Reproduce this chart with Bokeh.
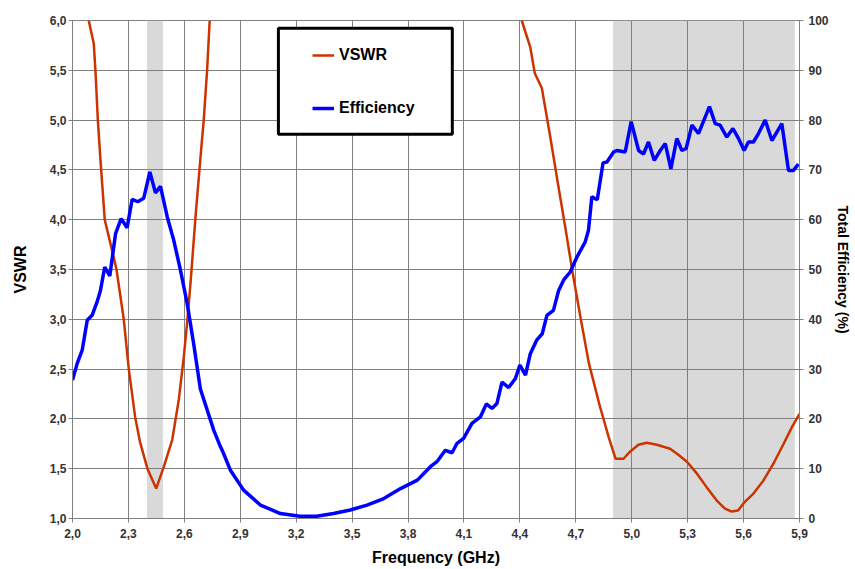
import numpy as np
from bokeh.plotting import figure
from bokeh.models import (Range1d, LinearAxis, FixedTicker, Legend, LegendItem,
                          BoxAnnotation)
from bokeh.embed import file_html
from bokeh.resources import INLINE

# ---------------- data ----------------
vswr_freq = [2.087, 2.114, 2.123, 2.136, 2.150, 2.173, 2.205, 2.236, 2.275, 2.302,
             2.336, 2.362, 2.402, 2.449, 2.490, 2.535, 2.570, 2.597, 2.615, 2.633,
             2.660, 2.690, 2.704, 2.722, 2.736,
             None,
             4.410, 4.456, 4.480, 4.518, 4.563, 4.607, 4.643, 4.680, 4.725, 4.770,
             4.830, 4.876, 4.913, 4.956, 4.990, 5.036, 5.080, 5.135, 5.170, 5.206,
             5.250, 5.296, 5.350, 5.400, 5.456, 5.500, 5.536, 5.570, 5.608, 5.653,
             5.706, 5.760, 5.815, 5.860, 5.900]
vswr_vals = [6.00, 5.77, 5.50, 5.00, 4.60, 4.00, 3.75, 3.50, 3.00, 2.50,
             2.02, 1.77, 1.50, 1.30, 1.52, 1.79, 2.19, 2.62, 2.97, 3.36,
             4.03, 4.70, 5.00, 5.50, 6.00,
             None,
             6.00, 5.73, 5.47, 5.32, 4.83, 4.33, 3.93, 3.50, 3.02, 2.56,
             2.12, 1.82, 1.60, 1.60, 1.67, 1.74, 1.76, 1.74, 1.72, 1.70,
             1.64, 1.57, 1.45, 1.32, 1.18, 1.10, 1.07, 1.08, 1.17, 1.25,
             1.38, 1.55, 1.75, 1.92, 2.05]

eff_freq = [2.000, 2.025, 2.052, 2.079, 2.105, 2.132, 2.150, 2.173, 2.200, 2.231,
            2.261, 2.293, 2.320, 2.350, 2.382, 2.415, 2.445, 2.472, 2.508, 2.543,
            2.579, 2.615, 2.650, 2.686, 2.758, 2.794, 2.810, 2.847, 2.918, 3.008,
            3.115, 3.220, 3.310, 3.400, 3.490, 3.580, 3.670, 3.760, 3.850, 3.920,
            3.955, 4.000, 4.036, 4.063, 4.098, 4.143, 4.188, 4.220, 4.250, 4.277,
            4.304, 4.340, 4.376, 4.400, 4.430, 4.456, 4.490, 4.520, 4.545, 4.580,
            4.608, 4.635, 4.670, 4.706, 4.750, 4.768, 4.786, 4.815, 4.846, 4.867,
            4.903, 4.921, 4.965, 4.997, 5.037, 5.063, 5.090, 5.121, 5.153, 5.180,
            5.210, 5.242, 5.269, 5.292, 5.323, 5.358, 5.417, 5.448, 5.474, 5.510,
            5.543, 5.573, 5.603, 5.626, 5.653, 5.680, 5.716, 5.752, 5.805, 5.841,
            5.868, 5.894]
eff_vals = [27.8, 31.1, 33.8, 39.8, 40.8, 43.5, 45.8, 50.5, 48.7, 57.2,
            60.2, 58.4, 64.1, 63.6, 64.3, 69.6, 65.4, 66.7, 60.6, 55.9,
            49.9, 43.2, 35.1, 26.0, 17.7, 14.4, 13.1, 9.7, 5.7, 2.7,
            1.0, 0.46, 0.46, 1.0, 1.7, 2.7, 4.0, 6.0, 7.7, 10.4,
            11.4, 13.7, 13.2, 15.1, 16.1, 19.1, 20.4, 23.0, 22.1, 23.1,
            27.4, 26.3, 28.1, 30.8, 28.8, 33.1, 35.8, 37.1, 40.8, 41.8,
            45.8, 47.9, 49.5, 52.5, 55.5, 57.9, 64.6, 64.0, 71.4, 71.6,
            73.6, 73.9, 73.6, 79.7, 73.9, 73.2, 75.6, 71.9, 73.9, 75.3,
            70.2, 76.3, 73.9, 74.3, 79.0, 77.3, 82.7, 79.3, 79.0, 76.6,
            78.3, 76.3, 73.9, 75.6, 75.6, 77.3, 80.0, 75.9, 79.3, 69.9,
            69.9, 71.2]

band_start = [2.400, 4.900]
band_end = [2.485, 5.875]

freq_ticks = [2.0, 2.3, 2.6, 2.9, 3.2, 3.5, 3.8, 4.1, 4.4, 4.7, 5.0, 5.3, 5.6, 5.9]
freq_labels = ["2,0", "2,3", "2,6", "2,9", "3,2", "3,5", "3,8", "4,1", "4,4",
               "4,7", "5,0", "5,3", "5,6", "5,9"]
vswr_ticks = [1.0, 1.5, 2.0, 2.5, 3.0, 3.5, 4.0, 4.5, 5.0, 5.5, 6.0]
vswr_labels = ["1,0", "1,5", "2,0", "2,5", "3,0", "3,5", "4,0", "4,5", "5,0",
               "5,5", "6,0"]
eff_ticks = [0, 10, 20, 30, 40, 50, 60, 70, 80, 90, 100]

# ---------------- figure ----------------
FONT = "Liberation Sans"
GRID = "#808080"
TICK_COL = "#333333"

p = figure(width=855, height=569, output_backend="svg", toolbar_location=None,
           x_range=Range1d(2.0, 5.9), y_range=Range1d(1.0, 6.0),
           min_border_left=72, min_border_right=56, min_border_top=20,
           min_border_bottom=51)
p.extra_y_ranges = {"eff": Range1d(0, 100)}
p.outline_line_color = GRID
p.outline_line_width = 1
p.background_fill_color = "white"
p.border_fill_color = "white"

# shaded bands (drawn under the grid)
for s, e in zip(band_start, band_end):
    p.add_layout(BoxAnnotation(left=s, right=e, fill_color="#cccccc",
                               fill_alpha=0.75, line_alpha=0, level="image"))

left_ax = p.yaxis[0]
bottom_ax = p.xaxis[0]
bottom_ax.ticker = FixedTicker(ticks=freq_ticks)
bottom_ax.major_label_overrides = dict(zip(freq_ticks, freq_labels))
left_ax.ticker = FixedTicker(ticks=vswr_ticks)
left_ax.major_label_overrides = dict(zip(vswr_ticks, vswr_labels))
p.xgrid.ticker = FixedTicker(ticks=freq_ticks)
p.ygrid.ticker = FixedTicker(ticks=vswr_ticks)
for g in (p.xgrid, p.ygrid):
    g.grid_line_color = GRID
    g.grid_line_width = 1

bottom_ax.axis_label = "Frequency (GHz)"
left_ax.axis_label = "VSWR"

right = LinearAxis(y_range_name="eff", ticker=FixedTicker(ticks=eff_ticks),
                   axis_label="Total Efficiency (%)")
p.add_layout(right, "right")

for ax in (bottom_ax, left_ax, right):
    ax.axis_line_color = GRID
    ax.major_tick_line_color = GRID
    ax.major_tick_out = 4
    ax.major_tick_in = 0
    ax.minor_tick_line_color = None
    ax.major_label_text_font = FONT
    ax.major_label_text_font_style = "bold"
    ax.major_label_text_font_size = "12px"
    ax.major_label_text_color = TICK_COL
    ax.axis_label_text_font = FONT
    ax.axis_label_text_font_style = "bold"
    ax.axis_label_text_font_size = "16px"
    ax.axis_label_text_color = "black"

bottom_ax.major_label_standoff = 6
bottom_ax.axis_label_standoff = 8
left_ax.major_label_standoff = 2
left_ax.axis_label_standoff = 18
right.major_label_standoff = 5
right.axis_label_standoff = 3
right.axis_label_text_font_size = "14px"

r_vswr = p.line([np.nan if v is None else v for v in vswr_freq],
                [np.nan if v is None else v for v in vswr_vals],
                line_color="#cc3300", line_width=2.5)
r_eff = p.line(eff_freq, eff_vals, y_range_name="eff",
               line_color="#0000ff", line_width=3.5)

# legend frame
p.add_layout(BoxAnnotation(left=3.1046, right=4.0375, bottom=4.857, top=5.923,
                           fill_color="white", fill_alpha=1.0,
                           line_color="black", line_alpha=1.0, line_width=3))

legend = Legend(items=[LegendItem(label="VSWR", renderers=[r_vswr]),
                       LegendItem(label="Efficiency", renderers=[r_eff])],
                location=(240, 400), padding=0, margin=0,
                border_line_alpha=0, background_fill_alpha=0,
                glyph_width=22, glyph_height=20, label_height=20,
                spacing=33, label_standoff=5,
                label_text_font=FONT, label_text_font_style="bold",
                label_text_font_size="16px", label_text_color="black")
p.add_layout(legend, "center")

open("out.html", "w").write(file_html(p, INLINE))
